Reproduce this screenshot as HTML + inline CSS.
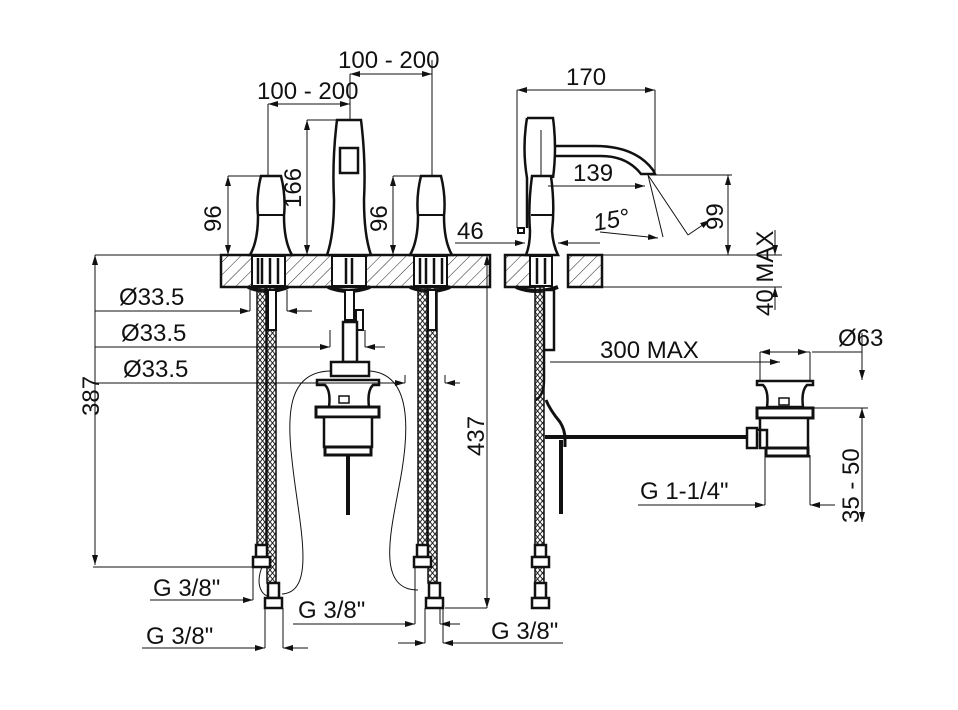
<!DOCTYPE html>
<html><head><meta charset="utf-8"><style>
html,body{margin:0;padding:0;background:#fff}
svg{display:block}
text{font-family:"Liberation Sans",Arial,sans-serif;font-size:24px;fill:#111}
</style></head><body>
<svg width="958" height="710" viewBox="0 0 958 710" xmlns="http://www.w3.org/2000/svg">
<defs>
<pattern id="h" width="9" height="9" patternUnits="userSpaceOnUse" patternTransform="rotate(45)"><line x1="0" y1="0" x2="0" y2="9" stroke="#222" stroke-width="1"/></pattern>
<pattern id="b" width="5" height="6" patternUnits="userSpaceOnUse"><path d="M0 0L5 6M5 0L0 6" stroke="#222" stroke-width="1"/></pattern>
<marker id="a" viewBox="0 0 10 6" refX="10" refY="3" markerWidth="10" markerHeight="6" orient="auto-start-reverse" markerUnits="userSpaceOnUse"><path d="M0 0L10 3L0 6z" fill="#111"/></marker>
</defs>
<g stroke="#111" stroke-width="1" fill="none">
<!-- deck plates -->
<rect x="221" y="255" width="269" height="32" fill="url(#h)" stroke-width="2.5"/>
<rect x="505" y="255" width="30" height="32" fill="url(#h)" stroke-width="2.5"/>
<rect x="568" y="255" width="34" height="32" fill="url(#h)" stroke-width="2.5"/>
<rect x="252" y="256" width="33" height="30" fill="#fff" stroke-width="2"/>
<rect x="332" y="256" width="34" height="30" fill="#fff" stroke-width="2"/>
<rect x="414" y="256" width="33" height="30" fill="#fff" stroke-width="2"/>
<rect x="530" y="256" width="22" height="30" fill="#fff" stroke-width="2"/>
<path d="M258 258v26M262 258v26M270 258v26M278 258v26M346 258v26M352 258v26M420 258v26M426 258v26M434 258v26M442 258v26M537 258v26M545 258v26" stroke-width="2.5"/>
<path d="M248 287q20 8 40 0M328 287q20 8 42 0M410 287q20 8 40 0M516 287q20 8 42 0" stroke-width="4"/>
<!-- handles -->
<path d="M261 176H281Q286 196 284 216Q284 241 292 255H250Q258 241 258 216Q256 196 261 176Z" fill="#fff" stroke-width="2.5"/>
<path d="M259 215H284" stroke-width="2"/>
<path d="M421 176H441Q446 196 444 216Q444 241 452 255H410Q418 241 418 216Q416 196 421 176Z" fill="#fff" stroke-width="2.5"/>
<path d="M419 215H444" stroke-width="2"/>
<!-- centre spout -->
<path d="M337 120H361Q366 160 364 200Q364 235 371 255H327Q334 235 334 200Q332 160 337 120Z" fill="#fff" stroke-width="2.5"/>
<rect x="340" y="148" width="18" height="25" stroke-width="2.5"/>
<!-- side view -->
<path d="M555 146h40q40 0 58 24l2 4h-14q-14 -18 -40 -18h-46" fill="#fff" stroke-width="2.5"/>
<path d="M527 118H553Q557 148 553 178" fill="none" stroke-width="2.5"/>
<path d="M527 118Q522 148 527 178L527 228" stroke-width="2.5"/>
<path d="M532 176H551Q555 206 552 231Q553 245 558 255H526Q530 245 530 231Q528 206 532 176Z" fill="#fff" stroke-width="2.5"/>
<path d="M531 215H553" stroke-width="2"/>
<rect x="518" y="228" width="6" height="5" stroke-width="2"/>
<line x1="541" y1="130" x2="541" y2="176"/>
<!-- hoses -->
<rect x="257" y="287" width="9" height="258" fill="url(#b)" stroke-width="1.5"/>
<rect x="267" y="287" width="9" height="296" fill="url(#b)" stroke-width="1.5"/>
<rect x="418" y="287" width="9" height="258" fill="url(#b)" stroke-width="1.5"/>
<rect x="428" y="287" width="9" height="296" fill="url(#b)" stroke-width="1.5"/>
<rect x="535" y="287" width="9" height="300" fill="url(#b)" stroke-width="1.5"/>
<rect x="268" y="290" width="8" height="40" fill="#fff" stroke-width="2"/>
<rect x="428" y="290" width="8" height="40" fill="#fff" stroke-width="2"/>
<rect x="544" y="290" width="10" height="60" fill="#fff" stroke-width="2.5"/>
<path d="M544 350v30q0 15 -8 20" stroke-width="2.5"/>
<g fill="#fff" stroke-width="2.5">
<rect x="256" y="545" width="11" height="12"/><rect x="253" y="557" width="17" height="10"/>
<rect x="268" y="583" width="11" height="15"/><rect x="265" y="598" width="17" height="10"/>
<rect x="417" y="545" width="11" height="12"/><rect x="414" y="557" width="17" height="10"/>
<rect x="429" y="583" width="11" height="15"/><rect x="426" y="598" width="17" height="10"/>
<rect x="535" y="545" width="11" height="12"/><rect x="532" y="557" width="17" height="10"/>
<rect x="535" y="583" width="11" height="15"/><rect x="532" y="598" width="17" height="10"/>
</g>
<!-- centre connection -->
<rect x="345" y="290" width="9" height="30" fill="#fff" stroke-width="2"/>
<rect x="356" y="310" width="7" height="20" fill="#fff" stroke-width="2"/>
<rect x="343" y="322" width="14" height="40" fill="#fff" stroke-width="2.5"/>
<rect x="331" y="362" width="38" height="14" fill="#fff" stroke-width="2.5"/>
<!-- left waste -->
<path d="M317 380h62v5h-6q-6 6 -4 22v4h-40v-4q2 -16 -4 -22h-8z" fill="#fff" stroke-width="2.5"/>
<rect x="316" y="407" width="63" height="10" fill="#fff" stroke-width="3"/>
<rect x="324" y="417" width="48" height="30" fill="#fff" stroke-width="2.5"/>
<rect x="325" y="447" width="46" height="8" fill="#fff" stroke-width="3"/>
<rect x="339" y="396" width="10" height="7" stroke-width="1.5"/>
<line x1="348" y1="455" x2="348" y2="515" stroke-width="4"/>
<path d="M330 371C290 372 286 410 292 460C298 520 318 592 282 594" stroke-width="1"/>
<path d="M370 371C408 374 410 420 402 470C394 520 372 590 418 590" stroke-width="1"/>
<path d="M262 567C255 585 262 595 268 596" stroke-width="1"/>
<!-- side view pop-up rod -->
<path d="M546 400q4 10 14 22q5 8 5 17v8" stroke-width="3"/>
<line x1="561" y1="440" x2="561" y2="514" stroke-width="4"/>
<line x1="545" y1="437" x2="750" y2="437" stroke-width="4"/>
<rect x="747" y="428" width="10" height="20" fill="#fff" stroke-width="2.5"/>
<!-- right waste -->
<path d="M757 381h56v4h-6q-6 6 -4 22h-36q2 -16 -4 -22h-6z" fill="#fff" stroke-width="2.5"/>
<rect x="757" y="408" width="56" height="10" fill="#fff" stroke-width="3"/>
<path d="M760 418h48v30h-48zM757 430h10v20" fill="#fff" stroke-width="2.5"/>
<rect x="766" y="448" width="42" height="8" fill="#fff" stroke-width="3"/>
<rect x="779" y="398" width="10" height="7" stroke-width="1.5"/>

<g marker-start="url(#a)" marker-end="url(#a)">
<line x1="350" y1="74" x2="432" y2="74"/>
<line x1="268" y1="104" x2="350" y2="104"/>
<line x1="517" y1="90" x2="655" y2="90"/>
<line x1="307" y1="120" x2="307" y2="255"/>
<line x1="228" y1="176" x2="228" y2="255"/>
<line x1="393" y1="176" x2="393" y2="255"/>
<line x1="728" y1="175" x2="728" y2="255"/>
<line x1="95" y1="255" x2="95" y2="565"/>
<line x1="487" y1="255" x2="487" y2="608"/>
<line x1="862" y1="408" x2="862" y2="522"/>
</g>
<g marker-end="url(#a)">
<line x1="548" y1="186" x2="645" y2="186"/>
<line x1="455" y1="243" x2="525" y2="243"/>
<line x1="600" y1="243" x2="558" y2="243"/>
<line x1="95" y1="311" x2="250" y2="311"/>
<line x1="312" y1="311" x2="287" y2="311"/>
<line x1="95" y1="347" x2="330" y2="347"/>
<line x1="385" y1="347" x2="365" y2="347"/>
<line x1="95" y1="383" x2="405" y2="383"/>
<line x1="460" y1="383" x2="445" y2="383"/>
<line x1="550" y1="362" x2="780" y2="362"/>
<line x1="810" y1="352" x2="760" y2="352"/>
<line x1="760" y1="352" x2="808" y2="352"/>
<line x1="862" y1="333" x2="862" y2="380"/>
<line x1="775" y1="230" x2="775" y2="255"/>
<line x1="775" y1="310" x2="775" y2="287"/>
<line x1="638" y1="505" x2="765" y2="505"/>
<line x1="835" y1="505" x2="810" y2="505"/>
<line x1="150" y1="600" x2="253" y2="600"/>
<line x1="142" y1="648" x2="265" y2="648"/>
<line x1="308" y1="648" x2="283" y2="648"/>
<line x1="293" y1="624" x2="415" y2="624"/>
<line x1="460" y1="624" x2="440" y2="624"/>
<line x1="398" y1="643" x2="425" y2="643"/>
<line x1="563" y1="643" x2="443" y2="643"/>
<line x1="600" y1="232" x2="658" y2="238"/>
<line x1="688" y1="235" x2="710" y2="220"/>
</g>
<path d="M432 60v116M350 74v46M268 104v72M517 90v138M655 90v82M307 120h30M228 176h33M393 176h28M650 175h82M95 255h126M602 255h180M602 287h180M250 290v21M287 290v21M330 330v17M365 330v17M405 375v8M445 375v8M760 352v30M810 352v30M862 352h-50M808 408h60M765 455v50M810 455v50M93 567h162M253 567v33M445 608h42M265 608v40M283 608v40M415 567v57M440 608v16M425 608v35M443 608v35M648 175l15 62M648 175l40 60"/>
</g>
<text x="338" y="68">100 - 200</text>
<text x="257" y="99">100 - 200</text>
<text x="566" y="85">170</text>
<text x="573" y="181">139</text>
<text x="457" y="239">46</text>
<text x="593" y="229" font-style="italic" transform="rotate(-10 605 220)">15°</text>
<text x="119" y="305">Ø33.5</text>
<text x="121" y="341">Ø33.5</text>
<text x="123" y="377">Ø33.5</text>
<text x="600" y="358">300 MAX</text>
<text x="838" y="346">Ø63</text>
<text x="640" y="499">G 1-1/4"</text>
<text x="153" y="596">G 3/8"</text>
<text x="146" y="644">G 3/8"</text>
<text x="298" y="618">G 3/8"</text>
<text x="491" y="639">G 3/8"</text>
<text transform="translate(301 208) rotate(-90)">166</text>
<text transform="translate(221 232) rotate(-90)">96</text>
<text transform="translate(387 232) rotate(-90)">96</text>
<text transform="translate(723 230) rotate(-90)">99</text>
<text transform="translate(773 316) rotate(-90)">40 MAX</text>
<text transform="translate(99 416) rotate(-90)">387</text>
<text transform="translate(484 456) rotate(-90)">437</text>
<text transform="translate(859 523) rotate(-90)">35 - 50</text>
</svg>
</body></html>
